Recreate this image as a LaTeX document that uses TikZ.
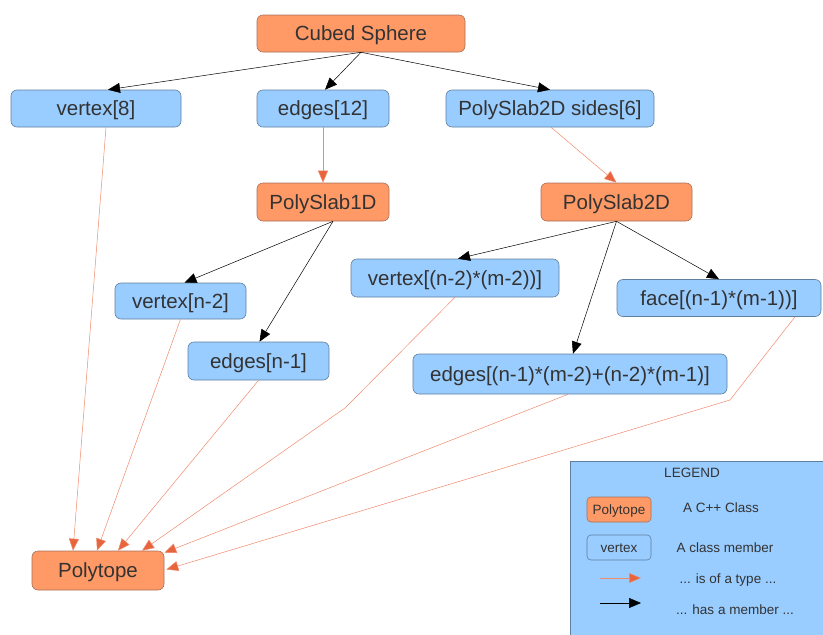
\documentclass[tikz,border=0pt]{standalone}
\usepackage{fontspec}
\setmainfont{Liberation Sans}
\usetikzlibrary{arrows.meta}
\definecolor{classfill}{HTML}{FF9966}
\definecolor{classdraw}{HTML}{A8705A}
\definecolor{memberfill}{HTML}{99CCFF}
\definecolor{memberdraw}{HTML}{5F7F9F}
\definecolor{typeline}{HTML}{F08A6C}
\definecolor{typehead}{HTML}{E8643C}
\definecolor{txt}{HTML}{333333}
\tikzset{
  box/.style={rounded corners=6pt, inner sep=0pt, text=txt, font=\fontsize{20.5}{24}\selectfont,
    text height=14.6pt, text depth=0pt, line width=0.6pt},
  classbox/.style={box, fill=classfill, draw=classdraw},
  memberbox/.style={box, fill=memberfill, draw=memberdraw},
  hasmember/.style={draw=black, line width=0.5pt, -{Triangle[length=12pt,width=10pt]}},
  oftype/.style={draw=typeline, line width=0.5pt, -{Triangle[length=12pt,width=10pt,fill=typehead]}},
  legtext/.style={text=txt, font=\fontsize{13.5}{16}\selectfont, inner sep=0pt, text height=9.7pt, text depth=0pt},
  legbox/.style={rounded corners=4pt, inner sep=0pt, text=txt, font=\fontsize{13.5}{16}\selectfont,
    text height=9.7pt, text depth=0pt, line width=0.6pt, minimum width=64pt, minimum height=25pt}
}
\begin{document}
\begin{tikzpicture}[x=1pt,y=-1pt]
\useasboundingbox (0,0) rectangle (823,635);

% legend panel
\fill[memberfill, draw=memberdraw, line width=0.6pt] (570,461) rectangle (830,642);
\node[legtext] (legtitle) at (692,473) {LEGEND};
\node[legbox, fill=classfill, draw=classdraw] (legclass) at (619,509.5) {Polytope};
\node[legtext] (legclasst) at (721,508) {A C++ Class};
\node[legbox, fill=memberfill, draw=memberdraw] (legmember) at (619,547.5) {vertex};
\node[legtext] (legmembert) at (725,548) {A class member};
\coordinate (lta) at (600,578);
\coordinate (ltb) at (641,578);
\draw[oftype] (lta) -- (ltb);
\node[legtext] (legtypet) at (728,579) {... is of a type ...};
\coordinate (lha) at (600,603);
\coordinate (lhb) at (641,603);
\draw[hasmember] (lha) -- (lhb);
\node[legtext] (leghast) at (735,610) {... has a member ...};

% classes and members
\node[classbox, minimum width=208pt, minimum height=37pt] (cubed) at (361,33.5) {Cubed Sphere};
\node[memberbox, minimum width=170pt, minimum height=37pt] (v8) at (96,108.5) {vertex[8]};
\node[memberbox, minimum width=132pt, minimum height=37pt] (e12) at (323,108.5) {edges[12]};
\node[memberbox, minimum width=208pt, minimum height=37pt] (ps2s) at (550,108.5) {PolySlab2D sides[6]};
\node[classbox, minimum width=132pt, minimum height=38pt] (ps1) at (323,202) {PolySlab1D};
\node[classbox, minimum width=151pt, minimum height=38pt] (ps2) at (616.5,202) {PolySlab2D};
\node[memberbox, minimum width=131pt, minimum height=36pt] (vn2) at (180.5,301) {vertex[n-2]};
\node[memberbox, minimum width=141pt, minimum height=38pt] (en1) at (258.5,361) {edges[n-1]};
\node[memberbox, minimum width=208pt, minimum height=38pt] (vnm) at (455,278) {vertex[(n-2)*(m-2))]};
\node[memberbox, minimum width=204pt, minimum height=37pt] (face) at (719,298) {face[(n-1)*(m-1))]};
\node[memberbox, minimum width=314pt, minimum height=40pt] (enm) at (570,374) {edges[(n-1)*(m-2)+(n-2)*(m-1)]};
\node[classbox, minimum width=132pt, minimum height=39pt] (poly) at (98,570.5) {Polytope};

% has-a-member links
\draw[hasmember] (cubed.south) -- ([xshift=12pt]v8.north);
\draw[hasmember] (cubed.south) -- ([xshift=2pt]e12.north);
\draw[hasmember] (cubed.south) -- (ps2s.north);
\draw[hasmember] ([xshift=10pt]ps1.south) -- ([xshift=4pt]vn2.north);
\draw[hasmember] ([xshift=10pt]ps1.south) -- ([xshift=1pt]en1.north);
\draw[hasmember] (ps2.south) -- ([xshift=3pt]vnm.north);
\draw[hasmember] (ps2.south) -- ([xshift=3pt]enm.north);
\draw[hasmember] (ps2.south) -- (face.north);

% is-of-a-type links
\draw[oftype] (e12.south) -- (ps1.north);
\draw[oftype] ([xshift=1pt]ps2s.south) -- (ps2.north);
\draw[oftype] ([xshift=10pt]v8.south) -- ([xshift=-25pt]poly.north);
\draw[oftype] (vn2.south) -- ([xshift=-1pt]poly.north);
\draw[oftype] (en1.south) -- ([xshift=20pt]poly.north);
\coordinate (bendA) at (345,408);
\draw[oftype] (vnm.south) -- (bendA) -- ([xshift=44pt]poly.north);
\draw[oftype] ([xshift=-2pt]enm.south) -- ([yshift=-2pt]poly.north east);
\coordinate (bendB) at (730,400);
\draw[oftype] ([xshift=76pt]face.south) -- (bendB) -- ([xshift=2pt,yshift=1pt]poly.east);
\end{tikzpicture}
\end{document}
